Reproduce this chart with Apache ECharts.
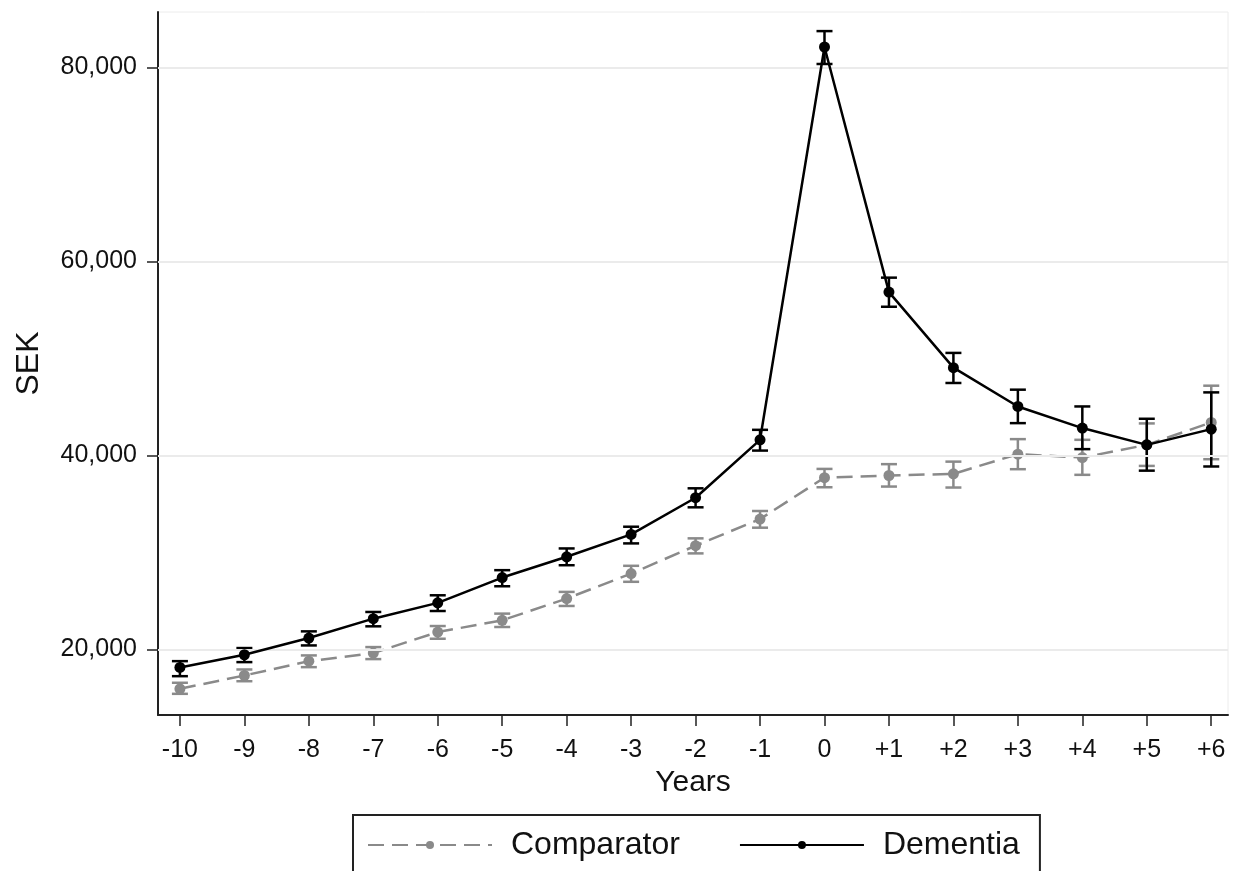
<!DOCTYPE html>
<html>
<head>
<meta charset="utf-8">
<script src="https://cdn.jsdelivr.net/npm/echarts@6/dist/echarts.min.js"></script>
<style>
  html, body { margin: 0; padding: 0; background: #fff; }
  #main { width: 1233px; height: 871px; }
</style>
</head>
<body>
<div id="main"></div>
<script>
// years relative to diagnosis
var years = [-10, -9, -8, -7, -6, -5, -4, -3, -2, -1, 0, 1, 2, 3, 4, 5, 6];

// Dementia: mean cost and 95% CI
var demMean = [18140, 19450, 21170, 23170, 24800, 27410, 29550, 31860, 35640, 41610, 82110, 56840, 49050, 45050, 42820, 41090, 42710];
var demLow  = [17240, 18690, 20410, 22380, 23960, 26510, 28680, 30930, 34650, 40500, 80360, 55330, 47470, 43330, 40650, 38430, 38860];
var demHigh = [18790, 20140, 21860, 23860, 25580, 28170, 30410, 32650, 36610, 42640, 83750, 58330, 50570, 46780, 45050, 43780, 46500];

// Comparator: mean cost and 95% CI
var comMean = [15940, 17310, 18790, 19620, 21790, 23000, 25240, 27820, 30690, 33440, 37710, 37930, 38100, 40130, 39780, 41090, 43400];
var comLow  = [15420, 16720, 18170, 19000, 21100, 22310, 24480, 26970, 29900, 32550, 36720, 36790, 36690, 38580, 38000, 38920, 39610];
var comHigh = [16560, 17930, 19380, 20240, 22410, 23690, 25930, 28620, 31450, 34270, 38610, 39100, 39360, 41680, 41610, 43300, 47190];

var yTicks = [20000, 40000, 60000, 80000];

var FONT = '"Liberation Sans", Arial, sans-serif';
var DEM_COLOR = '#000000';
var COM_COLOR = '#8a8a8a';

function pairs(vals) {
  var out = [];
  for (var i = 0; i < years.length; i++) {
    out.push([years[i], vals[i]]);
  }
  return out;
}

function errorBars(name, low, high, color, z) {
  var d = [];
  for (var i = 0; i < years.length; i++) {
    d.push([years[i], low[i], high[i]]);
  }
  return {
    name: name + ' CI',
    type: 'custom',
    z: z,
    silent: true,
    data: d,
    renderItem: function (params, api) {
      var x = api.value(0);
      var lo = api.coord([x, api.value(1)]);
      var hi = api.coord([x, api.value(2)]);
      var hw = 8;
      var st = { stroke: color, lineWidth: 2.5, fill: null };
      return {
        type: 'group',
        children: [
          { type: 'line', shape: { x1: lo[0], y1: lo[1], x2: hi[0], y2: hi[1] }, style: st },
          { type: 'line', shape: { x1: lo[0] - hw, y1: lo[1], x2: lo[0] + hw, y2: lo[1] }, style: st },
          { type: 'line', shape: { x1: hi[0] - hw, y1: hi[1], x2: hi[0] + hw, y2: hi[1] }, style: st }
        ]
      };
    }
  };
}

var myChart = echarts.init(document.getElementById('main'));

var option = {
  backgroundColor: '#ffffff',
  animation: false,
  textStyle: { fontFamily: FONT },
  grid: {
    left: 158,
    right: 5,
    top: 12,
    bottom: 156,
    show: true,
    borderColor: '#ececec',
    borderWidth: 1
  },
  legend: {
    data: ['Comparator', 'Dementia'],
    left: 353,
    top: 815,
    orient: 'horizontal',
    itemWidth: 124,
    itemHeight: 10,
    itemGap: 59,
    padding: [14, 20, 40, 14],
    borderColor: '#222',
    borderWidth: 2,
    textStyle: {
      fontFamily: FONT,
      fontSize: 32,
      color: '#111',
      padding: [0, 0, 0, 14]
    }
  },
  xAxis: {
    type: 'value',
    min: -10.34,
    max: 6.26,
    name: 'Years',
    nameLocation: 'middle',
    nameGap: 47,
    nameTextStyle: { fontFamily: FONT, fontSize: 30, color: '#111' },
    axisLine: { show: true, onZero: false, lineStyle: { color: '#222', width: 2 } },
    axisTick: { show: true, length: 11, customValues: years, lineStyle: { color: '#222', width: 1.5 } },
    axisLabel: {
      customValues: years,
      margin: 23,
      fontSize: 25,
      color: '#111',
      fontFamily: FONT,
      formatter: function (v) {
        return v > 0 ? '+' + v : String(v);
      }
    },
    splitLine: { show: false }
  },
  yAxis: {
    type: 'value',
    min: 13237,
    max: 85720,
    name: 'SEK',
    nameLocation: 'middle',
    nameRotate: 90,
    nameGap: 113,
    nameTextStyle: { fontFamily: FONT, fontSize: 32, color: '#111' },
    axisLine: { show: true, onZero: false, lineStyle: { color: '#222', width: 2 } },
    axisTick: { show: true, length: 11, customValues: yTicks, lineStyle: { color: '#222', width: 1.5 } },
    axisLabel: {
      customValues: yTicks,
      margin: 21,
      fontSize: 25,
      color: '#111',
      fontFamily: FONT,
      formatter: function (v) {
        return String(v).replace(/\B(?=(\d{3})+(?!\d))/g, ',');
      }
    },
    splitLine: { show: false }
  },
  series: [
    {
      name: 'grid',
      type: 'line',
      data: [],
      z: 0,
      silent: true,
      markLine: {
        silent: true,
        symbol: 'none',
        label: { show: false },
        lineStyle: { color: '#ebebeb', width: 2, type: 'solid' },
        data: yTicks.map(function (v) { return { yAxis: v }; })
      }
    },
    errorBars('Comparator', comLow, comHigh, COM_COLOR, 2),
    {
      name: 'Comparator',
      type: 'line',
      z: 3,
      data: pairs(comMean),
      symbol: 'circle',
      symbolSize: 11,
      itemStyle: { color: COM_COLOR },
      lineStyle: { color: COM_COLOR, width: 2.5, type: [16, 8] }
    },
    errorBars('Dementia', demLow, demHigh, DEM_COLOR, 4),
    {
      name: 'Dementia',
      type: 'line',
      z: 5,
      data: pairs(demMean),
      symbol: 'circle',
      symbolSize: 11,
      itemStyle: { color: DEM_COLOR },
      lineStyle: { color: DEM_COLOR, width: 2.5 }
    }
  ]
};

myChart.setOption(option);
window.onresize = myChart.resize;
</script>
</body>
</html>
